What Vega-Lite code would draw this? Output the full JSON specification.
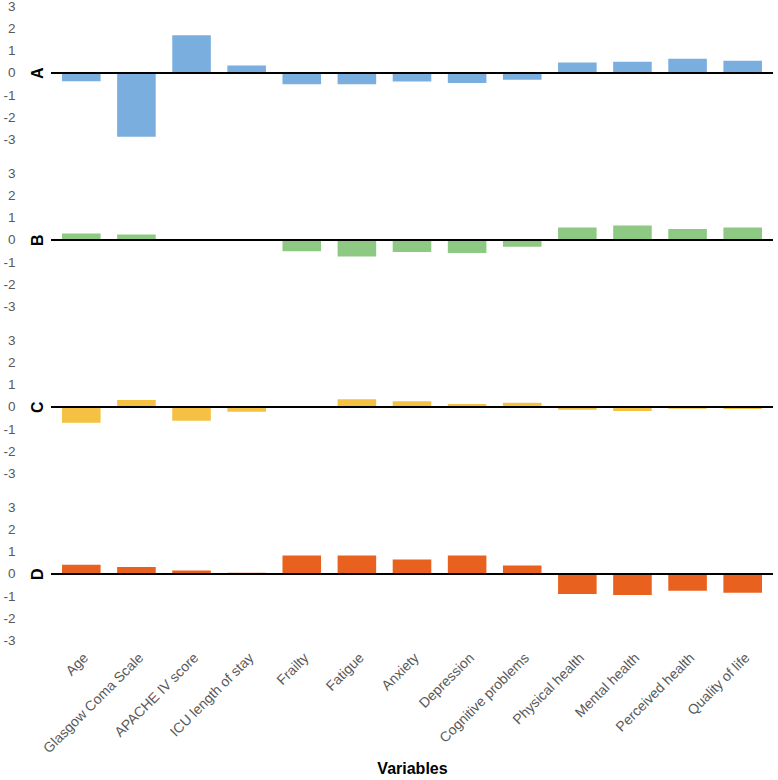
{
  "$schema": "https://vega.github.io/schema/vega-lite/v6.json",
  "padding": {"left": 2, "top": -1, "right": 4, "bottom": 0},
  "background": "white",
  "config": {
    "view": {"stroke": null},
    "font": "Liberation Sans",
    "axis": {"grid": false, "domain": false, "ticks": false, "labelColor": "#595959", "labelFont": "Liberation Sans", "labelOverlap": false}
  },
  "datasets": {
    "scores": [
      {"panel": "A", "variable": "Age", "value": -0.38},
      {"panel": "A", "variable": "Glasgow Coma Scale", "value": -2.88},
      {"panel": "A", "variable": "APACHE IV score", "value": 1.69},
      {"panel": "A", "variable": "ICU length of stay", "value": 0.33},
      {"panel": "A", "variable": "Frailty", "value": -0.52},
      {"panel": "A", "variable": "Fatigue", "value": -0.52},
      {"panel": "A", "variable": "Anxiety", "value": -0.39},
      {"panel": "A", "variable": "Depression", "value": -0.46},
      {"panel": "A", "variable": "Cognitive problems", "value": -0.31},
      {"panel": "A", "variable": "Physical health", "value": 0.46},
      {"panel": "A", "variable": "Mental health", "value": 0.49},
      {"panel": "A", "variable": "Perceived health", "value": 0.63},
      {"panel": "A", "variable": "Quality of life", "value": 0.54},
      {"panel": "B", "variable": "Age", "value": 0.28},
      {"panel": "B", "variable": "Glasgow Coma Scale", "value": 0.24},
      {"panel": "B", "variable": "APACHE IV score", "value": 0.02},
      {"panel": "B", "variable": "ICU length of stay", "value": 0.0},
      {"panel": "B", "variable": "Frailty", "value": -0.52},
      {"panel": "B", "variable": "Fatigue", "value": -0.75},
      {"panel": "B", "variable": "Anxiety", "value": -0.55},
      {"panel": "B", "variable": "Depression", "value": -0.6},
      {"panel": "B", "variable": "Cognitive problems", "value": -0.31},
      {"panel": "B", "variable": "Physical health", "value": 0.55},
      {"panel": "B", "variable": "Mental health", "value": 0.64},
      {"panel": "B", "variable": "Perceived health", "value": 0.48},
      {"panel": "B", "variable": "Quality of life", "value": 0.55},
      {"panel": "C", "variable": "Age", "value": -0.72},
      {"panel": "C", "variable": "Glasgow Coma Scale", "value": 0.3},
      {"panel": "C", "variable": "APACHE IV score", "value": -0.63},
      {"panel": "C", "variable": "ICU length of stay", "value": -0.22},
      {"panel": "C", "variable": "Frailty", "value": 0.0},
      {"panel": "C", "variable": "Fatigue", "value": 0.34},
      {"panel": "C", "variable": "Anxiety", "value": 0.25},
      {"panel": "C", "variable": "Depression", "value": 0.12},
      {"panel": "C", "variable": "Cognitive problems", "value": 0.18},
      {"panel": "C", "variable": "Physical health", "value": -0.13},
      {"panel": "C", "variable": "Mental health", "value": -0.19},
      {"panel": "C", "variable": "Perceived health", "value": -0.09},
      {"panel": "C", "variable": "Quality of life", "value": -0.1},
      {"panel": "D", "variable": "Age", "value": 0.4},
      {"panel": "D", "variable": "Glasgow Coma Scale", "value": 0.3},
      {"panel": "D", "variable": "APACHE IV score", "value": 0.15},
      {"panel": "D", "variable": "ICU length of stay", "value": 0.05},
      {"panel": "D", "variable": "Frailty", "value": 0.82},
      {"panel": "D", "variable": "Fatigue", "value": 0.82},
      {"panel": "D", "variable": "Anxiety", "value": 0.64},
      {"panel": "D", "variable": "Depression", "value": 0.82},
      {"panel": "D", "variable": "Cognitive problems", "value": 0.37},
      {"panel": "D", "variable": "Physical health", "value": -0.91},
      {"panel": "D", "variable": "Mental health", "value": -0.96},
      {"panel": "D", "variable": "Perceived health", "value": -0.76},
      {"panel": "D", "variable": "Quality of life", "value": -0.85}
    ]
  },
  "spacing": 20,
  "vconcat": [
    {
      "width": 722, "height": 133.5,
      "data": {"name": "scores"},
      "transform": [{"filter": "datum.panel === 'A'"}],
      "layer": [
        {"mark": {"type": "bar", "color": "#7AAEDF"},
         "encoding": {
           "x": {"field": "variable", "type": "nominal", "sort": null, "scale": {"paddingInner": 0.3, "paddingOuter": 0.2}, "axis": null},
           "y": {"field": "value", "type": "quantitative", "scale": {"domain": [-3, 3], "nice": false, "zero": false},
                 "axis": {"values": [-3, -2, -1, 0, 1, 2, 3], "tickCount": 12, "labelExpr": "'' + datum.value", "labelFontSize": 13.5, "labelPadding": 36,
                          "title": "A", "titleFontSize": 16, "titleFontWeight": "bold", "titleColor": "#000000", "titleAngle": -90,
                          "titleX": -14, "titleY": 66.75, "titleAlign": "center", "titleBaseline": "middle"}}
         }},
        {"mark": {"type": "rule", "color": "#000000", "strokeWidth": 1.6}, "encoding": {"y": {"datum": 0}}}
      ]
    },
    {
      "width": 722, "height": 133.5,
      "data": {"name": "scores"},
      "transform": [{"filter": "datum.panel === 'B'"}],
      "layer": [
        {"mark": {"type": "bar", "color": "#8DC983"},
         "encoding": {
           "x": {"field": "variable", "type": "nominal", "sort": null, "scale": {"paddingInner": 0.3, "paddingOuter": 0.2}, "axis": null},
           "y": {"field": "value", "type": "quantitative", "scale": {"domain": [-3, 3], "nice": false, "zero": false},
                 "axis": {"values": [-3, -2, -1, 0, 1, 2, 3], "tickCount": 12, "labelExpr": "'' + datum.value", "labelFontSize": 13.5, "labelPadding": 36,
                          "title": "B", "titleFontSize": 16, "titleFontWeight": "bold", "titleColor": "#000000", "titleAngle": -90,
                          "titleX": -14, "titleY": 66.75, "titleAlign": "center", "titleBaseline": "middle"}}
         }},
        {"mark": {"type": "rule", "color": "#000000", "strokeWidth": 1.6}, "encoding": {"y": {"datum": 0}}}
      ]
    },
    {
      "width": 722, "height": 133.5,
      "data": {"name": "scores"},
      "transform": [{"filter": "datum.panel === 'C'"}],
      "layer": [
        {"mark": {"type": "bar", "color": "#F5C143"},
         "encoding": {
           "x": {"field": "variable", "type": "nominal", "sort": null, "scale": {"paddingInner": 0.3, "paddingOuter": 0.2}, "axis": null},
           "y": {"field": "value", "type": "quantitative", "scale": {"domain": [-3, 3], "nice": false, "zero": false},
                 "axis": {"values": [-3, -2, -1, 0, 1, 2, 3], "tickCount": 12, "labelExpr": "'' + datum.value", "labelFontSize": 13.5, "labelPadding": 36,
                          "title": "C", "titleFontSize": 16, "titleFontWeight": "bold", "titleColor": "#000000", "titleAngle": -90,
                          "titleX": -14, "titleY": 66.75, "titleAlign": "center", "titleBaseline": "middle"}}
         }},
        {"mark": {"type": "rule", "color": "#000000", "strokeWidth": 1.6}, "encoding": {"y": {"datum": 0}}}
      ]
    },
    {
      "width": 722, "height": 133.5,
      "data": {"name": "scores"},
      "transform": [{"filter": "datum.panel === 'D'"}],
      "layer": [
        {"mark": {"type": "bar", "color": "#E8611E"},
         "encoding": {
           "x": {"field": "variable", "type": "nominal", "sort": null, "scale": {"paddingInner": 0.3, "paddingOuter": 0.2},
                 "axis": {"title": "Variables", "labelAngle": -45, "labelFontSize": 14, "labelPadding": 10, "labelLimit": 200,
                          "titleFontSize": 16, "titleFontWeight": "bold", "titleColor": "#000000", "titlePadding": 5}},
           "y": {"field": "value", "type": "quantitative", "scale": {"domain": [-3, 3], "nice": false, "zero": false},
                 "axis": {"values": [-3, -2, -1, 0, 1, 2, 3], "tickCount": 12, "labelExpr": "'' + datum.value", "labelFontSize": 13.5, "labelPadding": 36,
                          "title": "D", "titleFontSize": 16, "titleFontWeight": "bold", "titleColor": "#000000", "titleAngle": -90,
                          "titleX": -14, "titleY": 66.75, "titleAlign": "center", "titleBaseline": "middle"}}
         }},
        {"mark": {"type": "rule", "color": "#000000", "strokeWidth": 1.6}, "encoding": {"y": {"datum": 0}}}
      ]
    }
  ]
}
